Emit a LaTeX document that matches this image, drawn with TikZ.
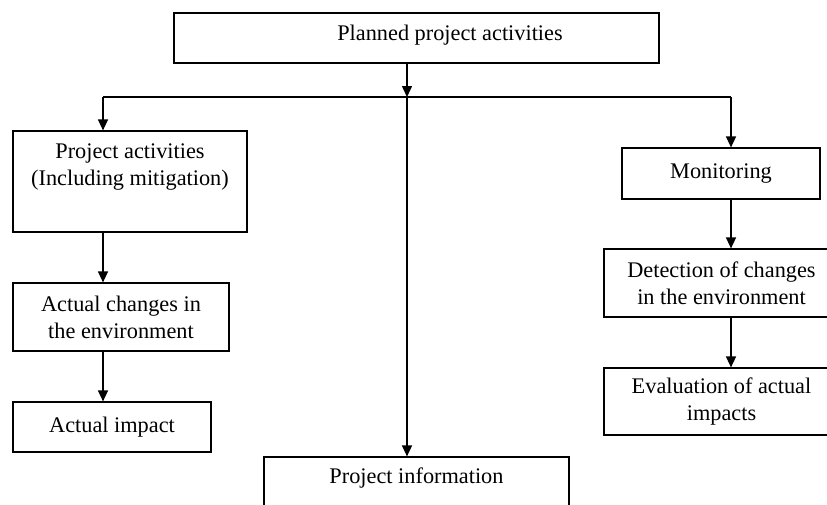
\documentclass[tikz,border=0pt]{standalone}
\usepackage{fontspec}
\setmainfont{Liberation Serif}
\usepackage{tikz}
\usetikzlibrary{arrows.meta}
\usetikzlibrary{calc}
\tikzstyle{block}=[draw, line width=1.2pt, inner sep=0pt, align=center]
\tikzstyle{caption}=[inner sep=0pt, align=center]
\tikzstyle{flow}=[line width=1.5pt, -{Triangle[length=11pt,width=10pt]}]
\tikzstyle{pixels}=[x=1pt, y=-1pt, font=\fontsize{22.3}{27}\selectfont]

\begin{document}
\begin{tikzpicture}[pixels]
	\useasboundingbox (0,0) rectangle (827,504);
	\clip (0,0) rectangle (827,504);
	% boxes
	\node[block, minimum width=485, minimum height=50] (plan) at (416.5,38) {};
	\node[caption] (plan-t) at (450,35) {Planned project activities};
	\node[block, minimum width=234, minimum height=101] (projact) at (130,181.5) {};
	\node[caption] (projact-t) at (130,167) {Project activities\\(Including mitigation)};
	\node[block, minimum width=216, minimum height=68] (actchg) at (121,317) {Actual changes in\\the environment};
	\node[block, minimum width=198, minimum height=50] (actimp) at (112,427) {Actual impact};
	\node[block, minimum width=305, minimum height=64] (projinfo) at (416.5,489) {};
	\node[caption] (projinfo-t) at (416.5,478) {Project information};
	\node[block, minimum width=198, minimum height=51] (monit) at (721,173.5) {Monitoring};
	\node[block, minimum width=235, minimum height=68] (detect) at (721.5,283) {Detection of changes\\in the environment};
	\node[block, minimum width=235, minimum height=67] (evalu) at (721.5,401.5) {Evaluation of actual\\impacts};
	% branching
	\coordinate (split) at (407,97);
	\coordinate (splitL) at (103,97);
	\coordinate (splitR) at (731,97);
	\draw[flow] (plan.south -| split) -- (split);
	\draw[line width=1.5pt] (splitL) -- (splitR);
	\draw[flow] (splitL) -- (projact.north -| splitL);
	\draw[flow] (split) -- (projinfo.north -| split);
	\draw[flow] (splitR) -- (monit.north -| splitR);
	% left column
	\draw[flow] (projact.south -| splitL) -- (actchg.north -| splitL);
	\draw[flow] (actchg.south -| splitL) -- (actimp.north -| splitL);
	% right column
	\draw[flow] (monit.south -| splitR) -- (detect.north -| splitR);
	\draw[flow] (detect.south -| splitR) -- (evalu.north -| splitR);
\end{tikzpicture}
\end{document}
